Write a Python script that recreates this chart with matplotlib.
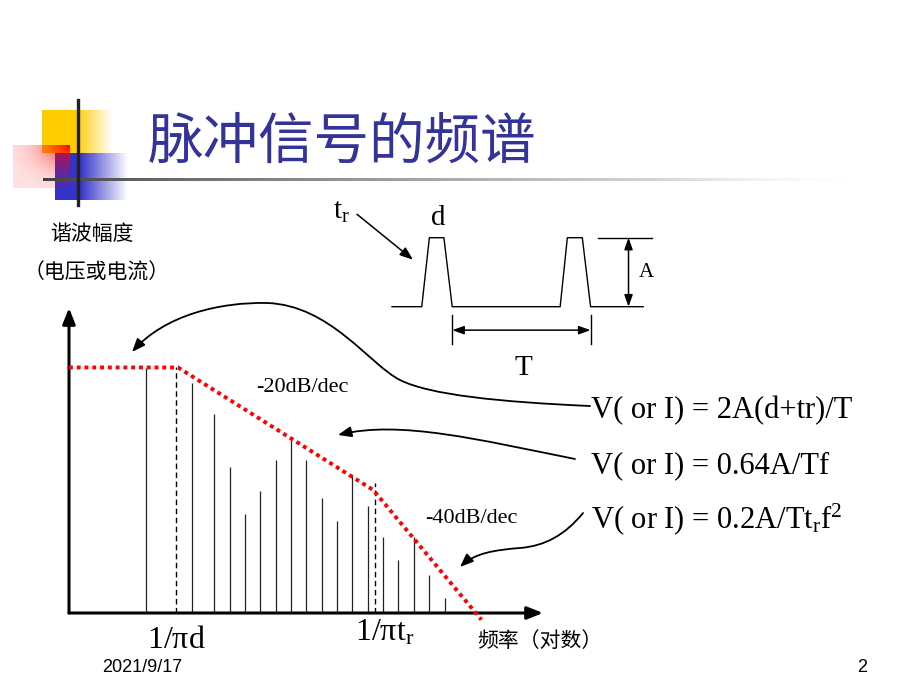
import numpy as np
import matplotlib.pyplot as plt
from matplotlib.patches import FancyArrowPatch
from matplotlib.path import Path

plt.rcParams['mathtext.fontset'] = 'custom'
plt.rcParams['mathtext.rm'] = 'Liberation Serif'
plt.rcParams['mathtext.it'] = 'Liberation Serif:italic'

CJK = ['Noto Sans CJK SC', 'DejaVu Sans']
SERIF = 'Liberation Serif'

# =========================================================
# DATA
# =========================================================

# spectral lines: position on log-frequency axis (0..100) and amplitude (0..100)
harm_x = [16.2, 25.9, 30.6, 33.9, 37.2, 40.4, 43.6, 46.9, 50.1,
          53.3, 56.6, 59.8, 63.0, 66.2, 69.5, 72.7, 76.0, 79.3]
harm_amp = [80.3, 75.4, 65.3, 47.8, 32.6, 40.1, 50.2, 57.8, 50.2,
            37.6, 30.1, 45.2, 35.0, 25.0, 17.5, 25.0, 12.4, 4.9]

# asymptotic envelope (red dotted)
env_x = [0, 23.0, 64.2, 87.0]
env_amp = [80.5, 80.5, 40.3, -2.2]

# corner frequencies
corner_x = [22.6, 64.6]
corner_amp = [80.8, 42.7]
corner_labels = [r'$\mathregular{1/πd}$', r'$\mathregular{1/πt_r}$']
corner_label_x = [22.6, 66.5]
corner_label_y = [-11.5, -8.9]

slope_labels = ['-20dB/dec', '-40dB/dec']
slope_x = [49.2, 84.8]
slope_y = [73.8, 31.1]

# trapezoidal pulse train (time units, T = 10)
pulse_t = [0, 2.15, 2.7, 3.75, 4.35, 12.15, 12.67, 13.75, 14.35, 18.15]
pulse_v = [0, 0, 1, 1, 0, 0, 1, 1, 0, 0]

formulas = [r'V( or I) = 2A(d+tr)/T',
            r'V( or I) = 0.64A/Tf',
            r'V( or I) = 0.2A/T$\mathregular{t_r f^2}$']
formula_base = [418, 473, 528]

# =========================================================
# FIGURE
# =========================================================

fig = plt.figure(figsize=(9.2, 6.9), dpi=100)
bg = fig.add_axes([0, 0, 1, 1])
bg.axis('off')

# --- slide decoration ---
def grad_box(ax, x0, x1, y0, y1, rgb, alpha):
    img = np.zeros(alpha.shape + (4,))
    img[..., :3] = rgb
    img[..., 3] = alpha
    ax.imshow(img, extent=(x0, x1, y1, y0), origin='upper', aspect='auto',
              interpolation='bilinear', zorder=1)

xx = np.linspace(42, 112, 140)
a = np.clip((112 - xx) / (112 - 76), 0, 1)
grad_box(bg, 42, 112, 110, 153, (1.0, 0.8, 0.0), np.tile(a, (40, 1)))

xx = np.linspace(55, 128, 140)
a = np.clip((128 - xx) / (128 - 80), 0, 1)
grad_box(bg, 55, 128, 153, 200, (0.2, 0.2, 0.8), np.tile(a, (40, 1)))

u, v = np.meshgrid(np.linspace(0, 1, 80), np.linspace(0, 1, 60))
d = np.clip(np.sqrt((1 - u) ** 2 + v ** 2) / np.sqrt(2), 0, 1)
grad_box(bg, 13, 70, 145, 188, (1.0, 0.0, 0.0), 0.12 + 0.88 * (1 - d) ** 3)

xx = np.linspace(0, 1, 400)
g = np.clip(0.25 + 0.75 * xx ** 0.8, 0, 1)
strip = np.zeros((3, 400, 4))
strip[..., :3] = g[None, :, None]
strip[..., 3] = np.clip((1 - xx) * 4, 0, 1)[None, :]
bg.imshow(strip, extent=(43, 880, 181.5, 178.5), origin='upper',
          aspect='auto', zorder=2)
bg.plot([78, 78], [100, 205], color='#222222', lw=2.4, zorder=3)

bg.set_xlim(0, 920)
bg.set_ylim(690, 0)

bg.text(148, 143, '脉冲信号的频谱', family=CJK, fontsize=40,
        fontweight='light', color='#333399', va='center', ha='left')

bg.text(92, 234, '谐波幅度', family=CJK, fontsize=15, ha='center', va='center')
bg.text(97, 273, '（电压或电流）', family=CJK, fontsize=15, ha='center',
        va='center')

for txt, yb in zip(formulas, formula_base):
    bg.text(591, yb, txt, family=SERIF, fontsize=22, ha='left',
            va='baseline')

bg.text(102, 667, '2021/9/17', family='Liberation Sans', fontsize=13,
        ha='left', va='center')
bg.text(862, 667, '2', family='Liberation Sans', fontsize=13, ha='center',
        va='center')

# --- curved leader arrows ---
def curve_arrow(ax, verts, codes):
    p = FancyArrowPatch(path=Path(verts, codes),
                        arrowstyle='-|>,head_length=0.8,head_width=0.32',
                        mutation_scale=10, lw=1.3, color='black', zorder=5)
    ax.add_patch(p)

C4 = Path.CURVE4
curve_arrow(bg, [(590, 406), (500, 402), (430, 395), (400, 380),
                 (370, 365), (330, 305), (267, 303),
                 (220, 302), (165, 315), (132, 352)],
            [Path.MOVETO, C4, C4, C4, C4, C4, C4, C4, C4, C4])
curve_arrow(bg, [(575, 459), (480, 440), (400, 420), (338, 435)],
            [Path.MOVETO, C4, C4, C4])
curve_arrow(bg, [(583, 513), (565, 535), (545, 546), (520, 548),
                 (495, 550), (475, 553), (460, 567)],
            [Path.MOVETO, C4, C4, C4, C4, C4, C4])

# =========================================================
# SPECTRUM
# =========================================================

ax = fig.add_axes([69 / 920, (690 - 613) / 690, 474 / 920, 305 / 690])
ax.patch.set_alpha(0)
ax.axis('off')
ax.set_xlim(0, 100)
ax.set_ylim(0, 100)

ax.vlines(harm_x, 0, harm_amp, color='#222222', lw=0.9)
ax.vlines(corner_x, 0, corner_amp, color='black', lw=1.0,
          linestyles=(0, (4, 2.5)))
ax.plot(env_x, env_amp, color='red', lw=2.8, ls=(0, (1, 1)),
        dash_capstyle='butt', clip_on=False, zorder=4)

arrow_kw = dict(arrowstyle='-|>,head_length=0.95,head_width=0.38',
                lw=2.2, color='black', shrinkA=0, shrinkB=0,
                mutation_scale=10)
ax.annotate('', xy=(0, 100), xytext=(0, 0), arrowprops=arrow_kw,
            annotation_clip=False)
ax.annotate('', xy=(100, 0), xytext=(0, 0), arrowprops=arrow_kw,
            annotation_clip=False)

for lab, lx, ly in zip(corner_labels, corner_label_x, corner_label_y):
    ax.text(lx, ly, lab, family=SERIF, fontsize=23, ha='center',
            va='baseline', clip_on=False)
for lab, lx, ly in zip(slope_labels, slope_x, slope_y):
    ax.text(lx, ly, lab, family=SERIF, fontsize=16, ha='center',
            va='center')
ax.text(86.1, -9.2, '频率（对数）', family=CJK, fontsize=15, ha='left',
        va='center', clip_on=False)

# =========================================================
# PULSE TRAIN
# =========================================================

pa = fig.add_axes([392 / 920, (690 - 306.7) / 690, 264 / 920, 69 / 690])
pa.patch.set_alpha(0)
pa.axis('off')
pa.set_xlim(0, 264 / 13.84)
pa.set_ylim(0, 1)

pa.plot(pulse_t, pulse_v, color='black', lw=1.0, clip_on=False)
pa.plot([14.92, 18.78], [1, 1], color='black', lw=1.0, clip_on=False)

dbl = dict(arrowstyle='<|-|>,head_length=0.7,head_width=0.25', lw=1.1,
           color='black', shrinkA=0, shrinkB=0, mutation_scale=10)
pa.annotate('', xy=(17.09, 1), xytext=(17.09, 0), arrowprops=dbl,
            annotation_clip=False)
pa.text(18.4, 0.49, 'A', family=SERIF, fontsize=15, ha='center',
        va='center')

for tx in [pulse_t[4], pulse_t[8]]:
    pa.plot([tx, tx], [-0.12, -0.545], color='black', lw=1.0,
            clip_on=False)
pa.annotate('', xy=(pulse_t[8], -0.34), xytext=(pulse_t[4], -0.34),
            arrowprops=dbl, annotation_clip=False)
pa.text(9.5, -0.89, 'T', family=SERIF, fontsize=21, ha='center',
        va='center', clip_on=False)
pa.text(3.35, 1.29, 'd', family=SERIF, fontsize=21, ha='center',
        va='center', clip_on=False)
pa.text(-3.68, 1.37, r'$\mathregular{t_r}$', family=SERIF, fontsize=21,
        ha='center', va='center', clip_on=False)
pa.annotate('', xy=(1.52, 0.68), xytext=(-2.53, 1.34),
            arrowprops=dict(arrowstyle='-|>,head_length=0.8,head_width=0.3',
                            lw=1.1, color='black', shrinkA=0, shrinkB=0,
                            mutation_scale=10),
            annotation_clip=False)

fig.savefig('out.png', dpi=100)
